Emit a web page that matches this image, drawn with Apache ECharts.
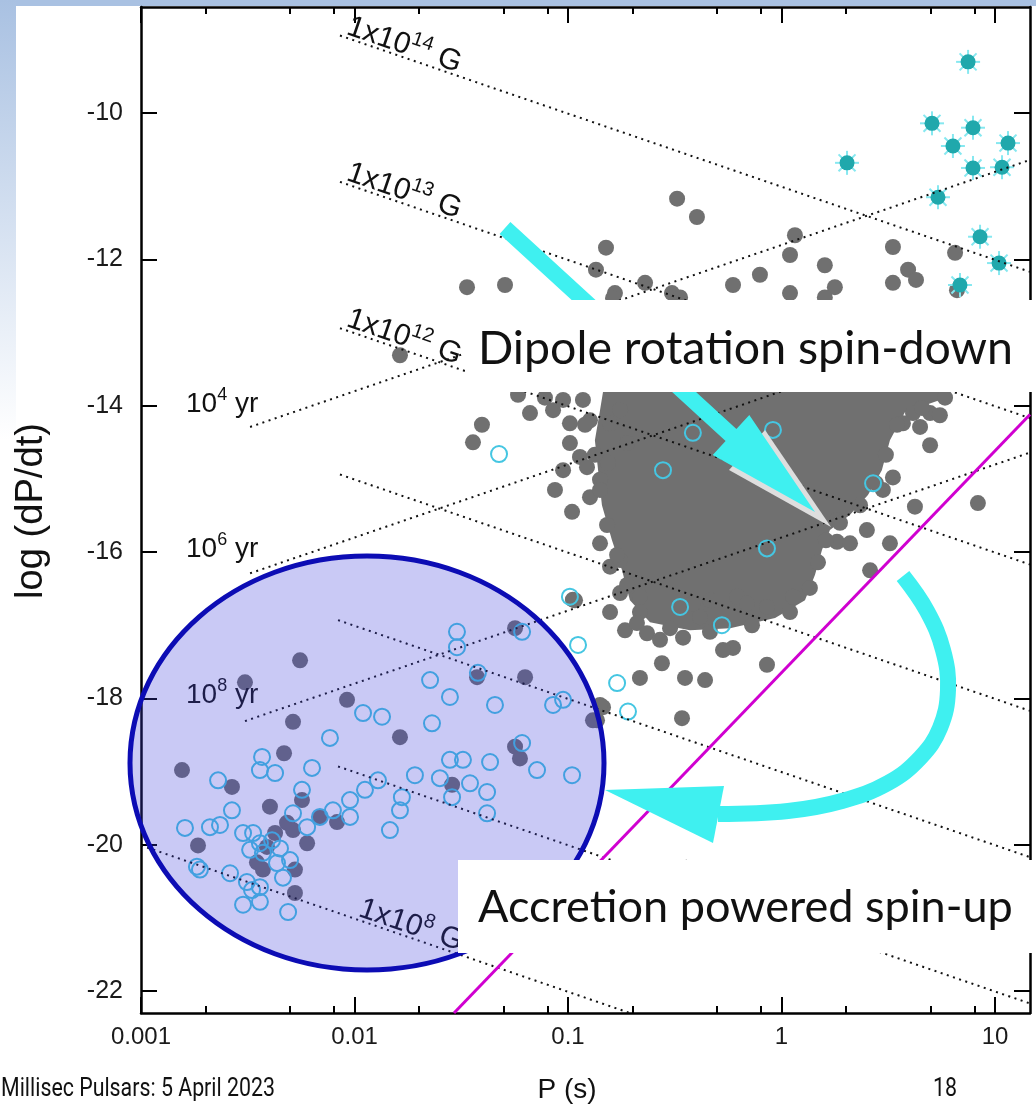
<!DOCTYPE html>
<html><head><meta charset="utf-8">
<script src="https://cdn.jsdelivr.net/npm/echarts@6/dist/echarts.min.js"></script>
<style>html,body{margin:0;padding:0;background:#fff;overflow:hidden}#c{width:1036px;height:1112px}</style>
</head><body><div id="c"></div>
<script>
// ---------------- DATA (log10 P [s], log10 dP/dt) ----------------
const xTickValues = [-3, -2, -1, 0, 1];
const xTickLabels = ['0.001', '0.01', '0.1', '1', '10'];
const xMinorTickP = [0.002, 0.005, 0.008, 0.02, 0.05, 0.08, 0.2, 0.5, 0.8, 2, 5, 8];
const yTickValues = [-22, -20, -18, -16, -14, -12, -10];

// normal pulsars (grey filled)
const psrUpper = [[-1.473,-12.38],[-1.295,-12.35],[-0.489,-11.17],[-0.396,-11.42],[-0.822,-11.84],[-0.869,-12.14],[-0.780,-12.46],[-0.639,-12.32],[-0.513,-12.46],[-0.227,-12.35],[-0.101,-12.21],[0.040,-11.94],[0.063,-11.67],[0.040,-12.46],[0.203,-12.08],[0.250,-12.38],[0.203,-12.52],[0.522,-11.83],[0.522,-12.32],[0.593,-12.14],[0.630,-12.28],[0.813,-11.91],[-0.475,-12.52],[-0.789,-12.53],[0.822,-12.42]];
const psrLone = [[-1.787,-13.31],[-1.403,-14.26],[-1.445,-14.50],[-1.234,-13.85]];
const psrBlobLeft = [[-1.178,-14.10],[-1.070,-14.06],[-0.991,-14.24],[-0.991,-14.51],[-0.897,-14.20],[-0.944,-14.70],[-1.023,-14.88],[-1.061,-15.15],[-0.981,-15.45],[-0.897,-15.25],[-0.850,-15.01],[-0.850,-15.88],[-0.803,-16.20],[-0.756,-16.11],[-0.756,-16.56],[-0.663,-16.61],[-0.911,-14.84],[-0.813,-14.78],[-0.930,-13.92],[-1.023,-13.92],[-1.108,-13.89],[-0.803,-14.24],[-0.756,-14.06],[-0.723,-14.51]];
const psrBlobRight = [[0.616,-14.10],[0.696,-14.10],[0.742,-14.13],[0.569,-14.24],[0.649,-14.29],[0.696,-14.54],[0.522,-14.98],[0.475,-15.15],[0.625,-15.38],[0.920,-15.33],[0.400,-15.70],[0.260,-15.86],[0.321,-15.88],[0.508,-15.88],[0.415,-16.25],[0.260,-15.56]];
const psrBlobEdge = [[-0.920,-14.26],[-0.874,-14.67],[-0.850,-15.15],[-0.817,-15.63],[-0.770,-16.04],[-0.723,-16.45],[-0.663,-16.82],[-0.522,-17.04],[-0.335,-17.09],[-0.138,-17.00],[0.040,-16.82],[0.133,-16.49],[0.171,-16.14],[0.208,-15.84],[0.274,-15.60],[0.368,-15.36],[0.443,-15.06],[0.489,-14.67],[0.541,-14.26],[0.658,-14.03],[0.766,-13.89]];
const psrLower = [[-0.803,-16.82],[-0.733,-17.07],[-0.663,-17.72],[-0.560,-17.52],[-0.461,-17.17],[-0.452,-17.72],[-0.358,-17.75],[-0.466,-18.27],[-0.068,-17.54],[-0.227,-17.31],[-0.274,-17.34],[-0.677,-16.97],[-0.630,-17.11],[-0.569,-17.20],[-0.382,-16.89],[-0.415,-16.70],[-0.335,-16.66],[-0.208,-16.61],[-0.161,-16.70],[-0.068,-16.75],[0.054,-16.61],[-0.836,-18.12],[-0.864,-18.30],[-0.977,-16.65]];
// dense core of the normal pulsar population (outline)
const psrCoreOutline = [[-0.827,-13.50],[0.766,-13.50],[0.766,-13.65],[0.742,-13.92],[0.578,-14.09],[0.508,-14.47],[0.470,-14.88],[0.405,-15.22],[0.321,-15.49],[0.227,-15.70],[0.190,-15.97],[0.157,-16.31],[0.110,-16.66],[-0.030,-16.90],[-0.241,-17.04],[-0.429,-17.07],[-0.616,-16.96],[-0.710,-16.66],[-0.747,-16.25],[-0.794,-15.84],[-0.841,-15.36],[-0.859,-14.88],[-0.874,-14.47],[-0.850,-14.06],[-0.827,-13.65]];
// millisecond pulsars (grey filled, inside the circle)
const mspFilled = [[-2.255,-17.48],[-2.513,-17.78],[-2.035,-18.02],[-2.288,-18.32],[-1.787,-18.53],[-2.330,-18.75],[-2.808,-18.98],[-2.574,-19.21],[-2.396,-19.48],[-2.246,-19.39],[-2.316,-19.70],[-2.288,-19.80],[-2.372,-19.84],[-2.222,-19.98],[-2.410,-20.03],[-2.733,-20.01],[-2.457,-20.24],[-2.429,-20.34],[-2.279,-20.34],[-2.279,-20.66],[-2.162,-19.62],[-2.082,-19.69],[-1.248,-17.04],[-1.426,-17.71],[-1.201,-17.71],[-1.248,-18.66],[-1.225,-18.82],[-1.543,-19.18],[-0.967,-16.66],[-0.850,-18.09],[-0.883,-18.30]];
// binary pulsars (cyan open circles)
const binaryOpen = [[-1.520,-17.09],[-1.520,-17.30],[-1.215,-17.09],[-1.422,-17.65],[-1.646,-17.75],[-1.553,-17.98],[-1.342,-18.09],[-1.070,-18.09],[-1.023,-18.02],[-0.953,-17.27],[-0.770,-17.79],[-0.719,-18.18],[-1.960,-18.20],[-1.871,-18.25],[-1.637,-18.34],[-2.115,-18.54],[-1.215,-18.61],[-1.553,-18.84],[-1.492,-18.84],[-1.365,-18.87],[-1.145,-18.98],[-0.981,-19.05],[-1.717,-19.05],[-1.600,-19.09],[-1.459,-19.16],[-1.379,-19.28],[-1.543,-19.35],[-1.379,-19.57],[-1.778,-19.35],[-1.787,-19.53],[-1.834,-19.80],[-1.890,-19.12],[-1.951,-19.25],[-2.021,-19.39],[-2.021,-19.62],[-2.101,-19.53],[-2.162,-19.62],[-2.246,-19.25],[-2.199,-18.95],[-2.433,-18.80],[-2.372,-19.02],[-2.443,-18.98],[-2.639,-19.12],[-2.574,-19.53],[-2.630,-19.73],[-2.677,-19.76],[-2.794,-19.77],[-2.522,-19.84],[-2.475,-19.84],[-2.443,-19.98],[-2.386,-19.94],[-2.489,-20.07],[-2.429,-20.11],[-2.349,-20.05],[-2.302,-20.21],[-2.363,-20.25],[-2.222,-19.76],[-2.288,-19.57],[-2.724,-20.34],[-2.583,-20.39],[-2.504,-20.51],[-2.480,-20.62],[-2.443,-20.58],[-2.335,-20.45],[-2.522,-20.82],[-2.443,-20.78],[-2.311,-20.92],[-2.738,-20.30],
  [-1.323,-14.66],[-0.991,-16.61],[-0.415,-14.37],[-0.555,-14.88],[-0.040,-14.33],[-0.068,-15.95],[0.429,-15.06],[-0.475,-16.75],[-0.279,-17.00]];
// magnetars (cyan stars)
const magnetars = [[0.874,-9.30],[0.705,-10.14],[0.897,-10.20],[0.803,-10.45],[1.061,-10.41],[0.897,-10.75],[1.033,-10.74],[0.733,-11.15],[0.930,-11.69],[1.019,-12.05],[0.836,-12.35],[0.307,-10.68]];

// constant magnetic field lines (start / end points)
const fieldLineNames = ['1x10^14 G','1x10^13 G','1x10^12 G','1x10^11 G','1x10^10 G','1x10^9 G','1x10^8 G'];
const fieldLineStart = [[-2.068,-8.94],[-2.068,-10.94],[-2.068,-12.94],[-2.068,-14.94],[-2.077,-16.93],[-2.077,-18.93],[-3.0,-20.01]];
const fieldLineEnd = [[1.164,-12.17],[1.164,-14.17],[1.164,-16.17],[1.164,-18.17],[1.164,-20.17],[1.164,-22.17],[-0.71,-22.30]];
// characteristic age lines
const ageLineNames = ['10^4 yr','10^6 yr','10^8 yr'];
const ageLineStart = [[-2.489,-14.29],[-2.489,-16.29],[-2.513,-18.31]];
const ageLineEnd = [[1.164,-10.64],[1.164,-12.64],[1.164,-14.64]];
// spin-up line (magenta)
const spinUpLine = [[-1.534,-22.30],[1.164,-14.12]];

// ---------------- CHART ----------------
const FONT = "'Liberation Sans', Arial, Helvetica, sans-serif";
const GREY = '#707070';
const CYAN = '#3ff0f0';
const chart = echarts.init(document.getElementById('c'), null, {renderer: 'canvas', width: 1036, height: 1112});

function majorX(pos) {
  return {type: 'value', position: pos, min: -3, max: 1.164, gridIndex: 0,
    axisLine: {show: true, onZero: false, lineStyle: {color: '#000', width: 2.5}},
    axisTick: {show: true, inside: true, length: 16, customValues: xTickValues, lineStyle: {color: '#000', width: 2}},
    axisLabel: {show: pos === 'bottom', customValues: xTickValues, margin: 12, fontSize: 24, color: '#1a1a1a', fontFamily: FONT,
      formatter: v => { const i = xTickValues.indexOf(Math.round(v)); return (Math.abs(v - Math.round(v)) < 1e-6 && i >= 0) ? xTickLabels[i] : ''; }},
    splitLine: {show: false}};
}
function minorX(pos) {
  return {type: 'value', position: pos, min: -3, max: 1.164, gridIndex: 0,
    axisLine: {show: false, onZero: false},
    axisTick: {show: true, inside: true, length: 7, customValues: xMinorTickP.map(p => Math.log10(p)), lineStyle: {color: '#000', width: 2}},
    axisLabel: {show: false}, splitLine: {show: false}};
}
function majorY(pos) {
  return {type: 'value', position: pos, min: -22.3, max: -8.55, gridIndex: 0,
    axisLine: {show: true, onZero: false, lineStyle: {color: '#000', width: 2.5}},
    axisTick: {show: true, inside: true, length: 16, customValues: yTickValues, lineStyle: {color: '#000', width: 2}},
    axisLabel: {show: pos === 'left', customValues: yTickValues, margin: 18, fontSize: 25, color: '#1a1a1a', fontFamily: FONT, formatter: v => String(v)},
    splitLine: {show: false}};
}

const series = [];
series.push({type: 'custom', name: 'core', z: 2, silent: true, data: [psrCoreOutline[0]],
  renderItem: (p, api) => ({type: 'polygon', shape: {points: psrCoreOutline.map(c => api.coord(c))}, style: {fill: GREY}})});
const greyAll = [].concat(psrUpper, psrLone, psrBlobLeft, psrBlobRight, psrBlobEdge, psrLower, mspFilled);
series.push({type: 'scatter', name: 'pulsars', z: 2, silent: true, symbol: 'circle', symbolSize: 16, data: greyAll, itemStyle: {color: GREY, opacity: 1}});
series.push({type: 'scatter', name: 'binaries', z: 3, silent: true, symbol: 'circle', symbolSize: 16, data: binaryOpen,
  itemStyle: {color: 'rgba(0,0,0,0)', borderColor: '#45c6e2', borderWidth: 2, opacity: 1}});
series.push({type: 'custom', name: 'magnetars', z: 3, silent: true, data: magnetars,
  renderItem: (p, api) => {
    const c = api.coord([api.value(0), api.value(1)]);
    const r = 12, d = r * 0.7071, st = {stroke: '#86e8f0', lineWidth: 2};
    return {type: 'group', children: [
      {type: 'line', shape: {x1: c[0] - r, y1: c[1], x2: c[0] + r, y2: c[1]}, style: st},
      {type: 'line', shape: {x1: c[0], y1: c[1] - r, x2: c[0], y2: c[1] + r}, style: st},
      {type: 'line', shape: {x1: c[0] - d, y1: c[1] - d, x2: c[0] + d, y2: c[1] + d}, style: st},
      {type: 'line', shape: {x1: c[0] - d, y1: c[1] + d, x2: c[0] + d, y2: c[1] - d}, style: st},
      {type: 'circle', shape: {cx: c[0], cy: c[1], r: 7.5}, style: {fill: '#20a8ac'}}
    ]};
  }});
fieldLineStart.forEach((s, i) => series.push({type: 'line', name: fieldLineNames[i], z: 4, silent: true, symbol: 'none', data: [s, fieldLineEnd[i]],
  lineStyle: {color: '#111', width: 2, type: [2, 4.5]}}));
ageLineStart.forEach((s, i) => series.push({type: 'line', name: ageLineNames[i], z: 4, silent: true, symbol: 'none', data: [s, ageLineEnd[i]],
  lineStyle: {color: '#111', width: 2, type: [2, 4.5]}}));
series.push({type: 'line', name: 'spin-up', z: 5, silent: true, symbol: 'none', data: spinUpLine, lineStyle: {color: '#d000d0', width: 3}});

// ---------------- ANNOTATIONS ----------------
function measure(text, fam, size) {
  const ctx = document.createElement('canvas').getContext('2d');
  ctx.font = size + 'px ' + fam;
  return ctx.measureText(text).width;
}
function fitSize(text, fam, w) { return 100 * w / measure(text, fam, 100); }
function txt(x, y, text, size, opts) {
  opts = opts || {};
  const st = {text: text, fill: opts.fill || '#111', font: size + 'px ' + (opts.fam || FONT),
    textAlign: opts.align || 'left', align: opts.align || 'left', textVerticalAlign: opts.va || 'middle', verticalAlign: opts.va || 'middle'};
  return {type: 'text', x: x, y: y, rotation: opts.rot || 0, scaleX: opts.sx || 1, z: opts.z || 10, silent: true, style: st};
}
function supLabel(x, y, base, sup, tail, rot, fs, ss) {
  const tok = (f, lh, va) => ({fontSize: f, fontFamily: FONT, fill: '#111', lineHeight: lh, verticalAlign: va, textVerticalAlign: va});
  return {type: 'text', x: x, y: y, rotation: rot || 0, z: 6, silent: true,
    style: {text: '{a|' + base + '}{s|' + sup + '}{a|' + tail + '}', textAlign: 'left', align: 'left', textVerticalAlign: 'bottom', verticalAlign: 'bottom',
      rich: {a: tok(fs, fs + 4, 'bottom'), s: tok(ss, ss + 1, 'top')}}};
}
const BOXFONT = "Lato, 'Open Sans', sans-serif";
const FOOTFONT = "Roboto, 'Liberation Sans', sans-serif";
const footText = 'Millisec Pulsars: 5 April 2023';
const footScale = 274 / measure(footText, FOOTFONT, 25);
const rotB = -Math.atan(73.16 / 213.5);
const graphics = [
  {type: 'rect', z: 0, silent: true, shape: {x: 0, y: 0, width: 1036, height: 6}, style: {fill: '#a9c1e2'}},
  {type: 'rect', z: 0, silent: true, shape: {x: 0, y: 0, width: 16, height: 440},
    style: {fill: new echarts.graphic.LinearGradient(0, 0, 0, 1, [{offset: 0, color: '#a9c1e2'}, {offset: 1, color: '#ffffff'}])}},
  // labels on lines
  supLabel(343, 40, '1x10', '14', ' G', rotB, 30, 20),
  supLabel(343, 186, '1x10', '13', ' G', rotB, 30, 20),
  supLabel(343, 332, '1x10', '12', ' G', rotB, 30, 20),
  supLabel(670, 883, '1x10', '9', ' G', rotB, 30, 20),
  supLabel(355, 922, '1x10', '8', ' G', rotB, 30, 20),
  supLabel(186, 418, '10', '4', ' yr', 0, 28, 18),
  supLabel(186, 563, '10', '6', ' yr', 0, 28, 18),
  supLabel(186, 709, '10', '8', ' yr', 0, 28, 18),
  // MSP ellipse
  {type: 'ellipse', z: 20, silent: true, shape: {cx: 367, cy: 763, rx: 237, ry: 207}, style: {fill: 'rgba(60,60,220,0.28)', stroke: '#0c0cb4', lineWidth: 5}},
  // straight arrow (spin-down) with shadow
  {type: 'polygon', z: 29, silent: true, shape: {points: [[765, 430], [831, 527], [729, 470]]}, style: {fill: '#dedede'}},
  {type: 'polygon', z: 30, silent: true, shape: {points: [[510.4, 222.1], [736.4, 429.1], [749.3, 415.1], [815, 512], [712.7, 454.9], [725.6, 440.9], [499.6, 233.9]]}, style: {fill: CYAN}},
  // curved arrow (spin-up)
  {type: 'polyline', z: 30, silent: true, shape: {points: [[903, 576], [927, 611], [943, 650], [948, 690], [940, 728], [920, 758], [888, 783], [842, 801], [788, 811], [718, 814]], smooth: 0.4},
    style: {stroke: CYAN, lineWidth: 16, fill: null}},
  {type: 'polygon', z: 30, silent: true, shape: {points: [[605, 790], [724, 786], [713, 843]]}, style: {fill: CYAN}},
  // text boxes
  {type: 'rect', z: 40, silent: true, shape: {x: 465, y: 300, width: 571, height: 92}, style: {fill: '#ffffff'}},
  {type: 'rect', z: 40, silent: true, shape: {x: 458, y: 860, width: 578, height: 93}, style: {fill: '#ffffff'}},
  txt(478, 349, 'Dipole rotation spin-down', fitSize('Dipole rotation spin-down', BOXFONT, 535), {fam: BOXFONT, z: 41}),
  txt(478, 907, 'Accretion powered spin-up', fitSize('Accretion powered spin-up', BOXFONT, 535), {fam: BOXFONT, z: 41}),
  // axis names and slide footer
  txt(31, 511, 'log (dP/dt)', fitSize('log (dP/dt)', FONT, 176), {align: 'center', rot: Math.PI / 2, z: 10}),
  txt(567, 1090, 'P (s)', 28, {align: 'center', z: 10}),
  txt(1, 1090, footText, 25, {fam: FOOTFONT, sx: footScale, z: 10}),
  txt(933, 1090, '18', 25, {fam: FOOTFONT, sx: footScale, z: 10})
];

chart.setOption({
  animation: false,
  backgroundColor: '#ffffff',
  grid: {left: 141, right: 6, top: 7, bottom: 99, containLabel: false},
  xAxis: [majorX('bottom'), majorX('top'), minorX('bottom'), minorX('top')],
  yAxis: [majorY('left'), majorY('right')],
  series: series,
  graphic: {elements: graphics}
});
</script></body></html>
